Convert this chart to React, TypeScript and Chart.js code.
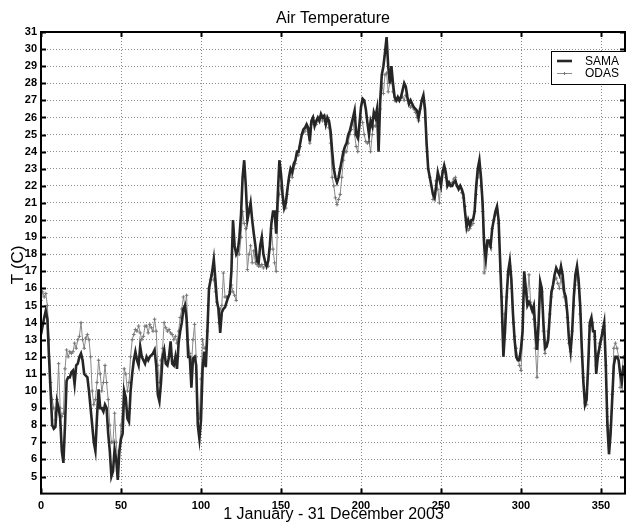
import React, { useEffect, useRef } from "react";
import { Chart, registerables } from "chart.js";

Chart.register(...registerables);

const title = "Air Temperature";
const xTitle = "1 January - 31 December 2003";
const yTitle = "T (C)";
const seriesNames = ["SAMA", "ODAS"];
const xTicks = [0, 50, 100, 150, 200, 250, 300, 350];
const yTicks = [5, 6, 7, 8, 9, 10, 11, 12, 13, 14, 15, 16, 17, 18, 19, 20, 21, 22, 23, 24, 25, 26, 27, 28, 29, 30, 31];

const sama = [
  13.3, 13.8, 14.3, 14.7, 14.2, 12.0, 10.0, 8.0, 7.8, 7.9,
  9.4, 9.0, 8.4, 6.5, 5.8, 8.0, 10.6, 10.8, 10.8, 11.1,
  11.2, 10.4, 11.5, 11.6, 12.0, 12.2, 11.8, 11.0, 10.9, 10.8,
  10.0, 9.0, 8.0, 7.0, 6.5, 8.5, 10.1, 9.0, 9.0, 8.8,
  9.2, 9.0, 7.5, 6.5, 5.0, 5.3, 6.6, 6.0, 4.8, 6.5,
  7.2, 7.5, 10.0, 9.6, 8.4, 8.2, 10.0, 11.0, 11.8, 12.3,
  11.8, 11.5, 12.6, 12.0, 11.8, 11.6, 12.0, 11.8, 12.0, 12.1,
  12.2, 12.4, 11.5, 9.8, 9.4, 10.5, 12.0, 12.4, 11.6, 11.5,
  12.0, 12.9, 11.6, 11.5, 12.0, 11.3, 12.8, 13.5, 14.0, 14.8,
  15.0, 14.2, 12.0, 12.0, 10.2, 11.9, 12.0, 11.5, 8.0, 7.2,
  8.3, 11.3, 12.3, 11.4, 13.5, 16.0, 16.5, 17.0, 17.7, 16.5,
  15.2, 14.8, 13.4, 14.6, 14.8, 14.9, 15.2, 15.5, 15.7, 17.0,
  20.0, 18.5, 18.0, 18.2, 19.0, 20.3, 22.5, 23.5, 22.0, 20.0,
  20.5, 21.0, 20.0, 19.2, 18.5, 17.6, 17.5, 18.5, 19.0, 18.0,
  17.6, 17.3, 17.6, 18.5, 19.8, 20.5, 20.5, 19.2, 21.5, 23.5,
  22.7, 21.5, 20.7, 21.0, 21.8, 22.5, 23.0, 22.8, 23.3, 23.5,
  24.0, 24.0, 24.5, 25.0, 25.3, 25.4, 25.6, 25.4, 24.6, 25.8,
  26.0, 25.5, 25.8, 26.0, 25.8, 26.2, 26.0, 26.1, 25.6, 26.0,
  25.8, 25.2, 24.0, 23.0, 22.5, 22.2, 22.5, 23.0, 23.5, 24.0,
  24.3, 24.5, 25.0, 25.2, 25.6, 26.0, 26.4, 25.0, 24.8, 25.6,
  26.6, 27.1, 27.0, 26.5, 25.7, 25.0, 25.8, 25.5, 26.3, 26.0,
  26.5, 24.0, 27.0, 28.5, 29.0, 29.8, 30.7, 29.0, 28.0, 29.0,
  28.0, 27.2, 27.0, 27.2, 27.0, 27.2, 27.6, 28.0, 27.8, 27.2,
  26.8, 27.0, 26.8, 26.6, 26.5, 26.4, 26.0, 26.5, 27.0, 27.3,
  26.5, 24.5, 23.0, 22.5, 22.0, 21.5, 21.3, 22.0, 22.8, 22.4,
  22.0, 22.8, 23.2, 22.8, 22.0, 22.2, 22.0, 22.0, 22.2, 22.3,
  22.0, 21.8, 22.0, 21.8, 21.5, 20.5, 19.6, 20.0, 19.7, 20.0,
  20.0, 20.5, 22.0, 23.0, 23.5, 22.5, 21.0, 18.5, 17.7, 18.8,
  18.8, 18.5, 19.5, 20.0, 20.5, 20.8, 20.0, 17.5, 15.0, 12.0,
  13.5, 15.5, 17.0, 17.6, 16.5, 14.5, 13.0, 12.0, 11.8, 11.8,
  12.5, 13.5, 17.0, 16.0, 15.0, 15.2, 15.0, 14.7, 15.0, 13.5,
  12.4, 14.0, 16.4, 16.0, 14.0, 12.5, 12.6, 13.0, 14.5, 15.8,
  16.2, 16.8, 17.2, 17.0, 16.8, 17.3, 16.8, 15.8, 15.5, 14.5,
  13.0, 12.3, 13.5, 15.5, 16.8, 17.3, 16.5, 15.0, 12.5, 10.5,
  9.2, 9.5, 11.5, 14.0, 14.3, 13.5, 13.5, 11.0, 12.0, 12.5,
  13.0, 13.5, 14.0, 11.5, 8.0, 6.3, 7.5, 9.5, 11.5, 12.0,
  12.0, 11.8, 11.0, 10.5, 11.5
];

const odas = [
  15.3, 15.8, 15.5, 15.7, 15.0, 13.0, 10.5, 9.5, 9.0, 8.3,
  9.5, 11.6, 9.0, 8.5, 8.7, 11.3, 12.4, 12.0, 12.3, 12.2,
  12.3, 12.8, 12.5, 13.0, 13.2, 14.0, 13.0, 12.5, 13.1, 13.3,
  13.0, 12.0, 10.0, 9.2, 9.5, 10.5, 11.8, 11.0, 10.0, 10.5,
  11.5, 10.5, 9.5, 8.0, 7.0, 7.0, 8.7, 7.0, 5.8, 6.5,
  8.0, 9.0, 11.3, 11.0, 10.0, 10.5, 12.0, 13.0, 13.3, 13.6,
  13.5, 13.8, 13.4, 13.0, 13.2, 13.8, 13.8, 13.4, 13.9, 13.7,
  13.5, 14.2, 13.5, 11.5, 10.5, 11.8, 12.5, 14.0, 13.7, 13.5,
  13.6, 13.4, 13.3, 13.0, 13.2, 12.8, 13.5, 14.3, 14.8, 15.5,
  15.0, 15.6, 13.0, 12.2, 11.5, 13.0, 13.9, 12.0, 8.7, 8.4,
  10.7, 13.0, 12.5, 12.5, 13.5, 16.0, 16.5, 16.8, 16.5, 15.8,
  15.2, 14.0, 14.8, 15.0, 16.9, 15.5, 15.5, 15.5, 15.8, 16.2,
  15.8, 15.6, 15.3, 18.0, 18.0, 19.0, 20.5, 19.8, 19.5, 17.1,
  18.0, 18.5, 17.5, 18.2, 17.5, 17.4, 17.3, 17.3, 17.4, 17.2,
  17.4, 17.3, 17.3, 18.3, 19.5, 18.3, 17.5, 17.0, 20.5, 21.5,
  22.0, 21.0, 20.7, 20.7, 21.5, 22.3, 22.8, 22.5, 23.0, 23.3,
  23.8, 23.8, 24.3, 25.0, 25.1, 25.2, 25.4, 25.0, 24.5, 25.6,
  26.0, 25.6, 25.6, 25.8, 26.0, 26.0, 25.8, 26.1, 25.6, 25.9,
  25.4, 24.5, 22.5, 22.0, 21.3, 20.9, 21.2, 21.5, 22.5, 23.5,
  24.0, 24.0, 24.5, 25.0, 25.3, 25.8, 25.0, 24.3, 24.0, 25.0,
  26.0, 25.7, 25.0, 24.6, 24.5, 24.6, 24.0, 25.0, 25.5, 25.5,
  26.2, 26.0, 26.5, 28.0, 27.4, 28.5, 28.6, 27.5, 28.0, 28.2,
  27.5, 27.0, 27.0, 27.0, 27.0, 27.2, 27.2, 27.0, 27.3, 27.0,
  26.8, 26.6, 26.7, 26.5, 26.3, 26.0, 25.8, 26.5, 27.0, 27.0,
  26.0, 24.0, 23.0, 22.5, 22.0, 21.2, 21.5, 22.3, 21.8, 21.0,
  22.5, 22.8, 22.8, 22.5, 22.0, 22.2, 22.0, 22.2, 22.4, 22.5,
  22.0, 21.9, 22.0, 21.6, 21.3, 20.8, 19.6, 19.4, 19.5, 19.7,
  19.8, 20.5, 21.5, 22.5, 23.0, 22.0, 20.5, 16.9, 18.5, 18.6,
  18.5, 18.4, 19.5, 20.0, 20.3, 20.6, 19.8, 17.0, 15.5, 13.5,
  14.5, 15.5, 16.8, 17.3, 16.0, 14.0, 13.2, 12.5, 12.0, 11.5,
  11.2, 13.0, 16.6, 15.7, 15.5, 16.8, 15.2, 14.8, 14.2, 12.5,
  10.8, 13.0, 16.0, 15.8, 13.5, 12.2, 12.8, 13.5, 14.5, 15.5,
  16.0, 16.5, 16.6, 16.3, 16.0, 16.6, 16.0, 15.5, 15.0, 14.3,
  12.8, 12.3, 13.5, 15.0, 16.2, 16.8, 16.0, 14.5, 12.0, 10.8,
  9.3, 9.2, 11.0, 13.8, 14.2, 14.0, 13.2, 11.5, 12.2, 12.8,
  13.0, 13.5, 13.8, 11.5, 8.5, 7.5, 8.0, 9.8, 12.5, 12.8,
  12.5, 12.0, 10.2, 11.0, 12.0
];

const days = sama.map((_, i) => i);

const FONT = "'Liberation Sans', Arial, Helvetica, sans-serif";

const decorPlugin = {
  id: "decor",
  afterDraw(chart: any) {
    const { ctx, chartArea } = chart;
    const { left, right, top, bottom } = chartArea;
    const xs = chart.scales.x;
    const ys = chart.scales.y;
    ctx.save();
    // frame
    ctx.strokeStyle = "#000";
    ctx.lineWidth = 2;
    ctx.strokeRect(left, top, right - left, bottom - top);
    // inward ticks
    const tl = 5;
    ctx.beginPath();
    xTicks.forEach((v) => {
      const px = Math.round(xs.getPixelForValue(v)) + 0.5;
      ctx.moveTo(px, bottom);
      ctx.lineTo(px, bottom - tl);
      ctx.moveTo(px, top);
      ctx.lineTo(px, top + tl);
    });
    yTicks.forEach((v) => {
      const py = Math.round(ys.getPixelForValue(v)) + 0.5;
      ctx.moveTo(left, py);
      ctx.lineTo(left + tl, py);
      ctx.moveTo(right, py);
      ctx.lineTo(right - tl, py);
    });
    ctx.stroke();

    // chart title and axis titles
    ctx.fillStyle = "#000";
    ctx.textAlign = "center";
    ctx.textBaseline = "middle";
    ctx.font = `16px ${FONT}`;
    ctx.fillText(title, (left + right) / 2, 18.5);
    ctx.font = `16px ${FONT}`;
    ctx.fillText(xTitle, (left + right) / 2 + 0.5, 515);
    ctx.save();
    ctx.translate(18, (top + bottom) / 2 + 2);
    ctx.rotate(-Math.PI / 2);
    ctx.font = `17px ${FONT}`;
    ctx.fillText(yTitle, 0, 0);
    ctx.restore();

    // legend
    const bx = 551.5, by = 51.5, bw = 90, bh = 33;
    ctx.fillStyle = "#fff";
    ctx.fillRect(bx, by, bw, bh);
    ctx.strokeStyle = "#000";
    ctx.lineWidth = 1;
    ctx.strokeRect(bx, by, bw, bh);
    const rows = [61, 73.5];
    seriesNames.forEach((name, i) => {
      const d = chart.data.datasets.find((x: any) => x.label === name);
      const y = rows[i];
      ctx.strokeStyle = d.borderColor;
      ctx.lineWidth = d.borderWidth;
      ctx.beginPath();
      ctx.moveTo(557, y);
      ctx.lineTo(572, y);
      ctx.stroke();
      if (d.pointRadius > 0) {
        ctx.beginPath();
        ctx.moveTo(564.5 - 1.5, y);
        ctx.lineTo(564.5 + 1.5, y);
        ctx.moveTo(564.5, y - 1.5);
        ctx.lineTo(564.5, y + 1.5);
        ctx.strokeStyle = d.pointBorderColor;
        ctx.lineWidth = 1;
        ctx.stroke();
      }
      ctx.fillStyle = "#000";
      ctx.font = `12px ${FONT}`;
      ctx.textAlign = "left";
      ctx.textBaseline = "middle";
      ctx.fillText(d.label, 585, y + 0.5);
    });
    ctx.restore();
  },
};

export default function App() {
  const ref = useRef<HTMLCanvasElement>(null);
  useEffect(() => {
    document.body.style.margin = "0";
    const canvas = ref.current!;
    const chart = new Chart(canvas, {
      type: "line",
      data: {
        datasets: [
          {
            label: seriesNames[1],
            data: days.map((d, i) => ({ x: d, y: odas[i] })),
            borderColor: "#8a8a8a",
            borderWidth: 1,
            pointRadius: 1.8,
            pointStyle: "cross",
            pointBorderColor: "#777",
            pointBorderWidth: 1,
            tension: 0,
            order: 2,
          },
          {
            label: seriesNames[0],
            data: days.map((d, i) => ({ x: d, y: sama[i] })),
            borderColor: "#262626",
            borderWidth: 2.6,
            pointRadius: 0,
            tension: 0,
            order: 1,
          },
        ],
      },
      options: {
        responsive: false,
        animation: false,
        devicePixelRatio: 1,
        layout: { padding: { left: 0, right: 3, top: 32, bottom: 0 } },
        plugins: {
          legend: { display: false },
          tooltip: { enabled: false },
          title: { display: false },
        },
        scales: {
          x: {
            type: "linear",
            min: 0,
            max: 365,
            afterBuildTicks: (s: any) => {
              s.ticks = xTicks.map((v) => ({ value: v }));
            },
            afterFit: (s: any) => {
              s.height = 30.4;
            },
            ticks: {
              color: "#000",
              padding: 6,
              maxRotation: 0,
              font: { family: FONT, size: 11, weight: "bold" },
            },
            grid: { color: "#8c8c8c", lineWidth: 1, drawTicks: false },
            border: { display: false, dash: [1, 2] },
          },
          y: {
            type: "linear",
            min: 4,
            max: 31,
            afterBuildTicks: (s: any) => {
              s.ticks = yTicks.map((v) => ({ value: v }));
            },
            afterFit: (s: any) => {
              s.width = 41;
            },
            ticks: {
              color: "#000",
              padding: 4,
              font: { family: FONT, size: 11, weight: "bold" },
            },
            grid: { color: "#8c8c8c", lineWidth: 1, drawTicks: false },
            border: { display: false, dash: [1, 2] },
          },
        },
      },
      plugins: [decorPlugin],
    });
    return () => chart.destroy();
  }, []);
  return (
    <div
      style={{
        position: "fixed",
        left: 0,
        top: 0,
        width: 626,
        height: 524,
        overflow: "hidden",
        background: "#fff",
      }}
    >
      <canvas ref={ref} width={630} height={524} style={{ display: "block" }} />
    </div>
  );
}
